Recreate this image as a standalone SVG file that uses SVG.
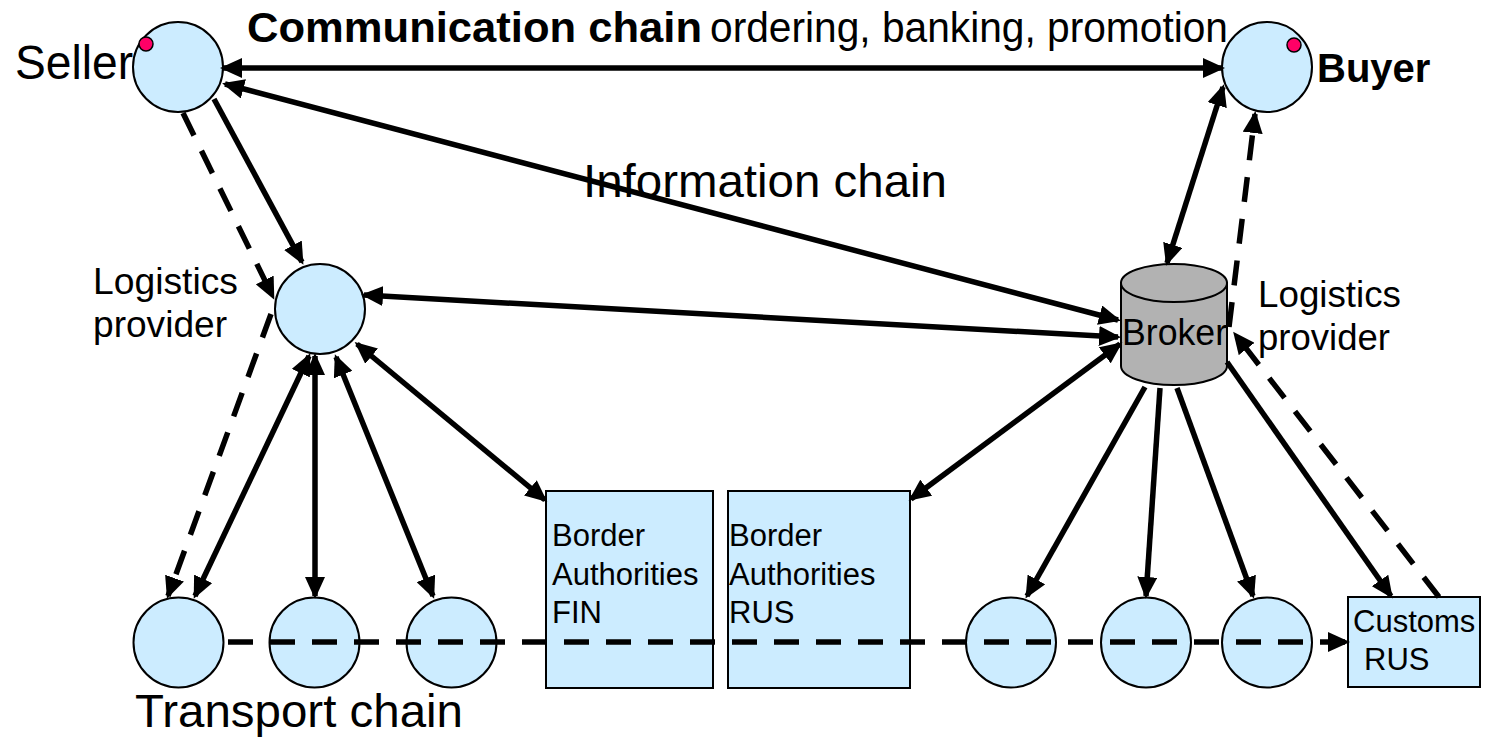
<svg xmlns="http://www.w3.org/2000/svg" width="1485" height="739" viewBox="0 0 1485 739">
<style>
.node{fill:#CCECFF;stroke:#000;stroke-width:2}
.dot{fill:#FF0066;stroke:#000;stroke-width:1.5}
.cyl{fill:#B2B2B2;stroke:#000;stroke-width:2}
.c{stroke:#000;stroke-width:5.5;fill:none}
.d{stroke-dasharray:25 17}
.both{marker-start:url(#ah);marker-end:url(#ah)}
.end{marker-end:url(#ah)}
text{font-family:"Liberation Sans",Arial,sans-serif;fill:#000}
.b{font-weight:bold}
</style>
<defs>
<marker id="ah" viewBox="0 0 22 20" refX="19" refY="10" markerWidth="22" markerHeight="20" markerUnits="userSpaceOnUse" orient="auto-start-reverse">
<path d="M0,0 L22,10 L0,20 Z" fill="#000"/>
</marker>
</defs>
<rect width="1485" height="739" fill="#fff"/>
<text x="15" y="79" font-size="48" textLength="118" lengthAdjust="spacingAndGlyphs">Seller</text>
<g id="seller">
<circle class="node" cx="178" cy="67" r="45"/>
<circle class="dot" cx="146" cy="44" r="7"/>
</g>
<g id="buyer">
<circle class="node" cx="1267" cy="67" r="45"/>
<circle class="dot" cx="1294" cy="45" r="7"/>
<text class="b" x="1317" y="82" font-size="40">Buyer</text>
</g>
<g id="logistics-left">
<circle class="node" cx="320" cy="309" r="45"/>
<text x="93" y="294" font-size="36" textLength="145" lengthAdjust="spacingAndGlyphs">Logistics</text>
<text x="93" y="337" font-size="36" textLength="134" lengthAdjust="spacingAndGlyphs">provider</text>
</g>
<g id="broker">
<path class="cyl" d="M1121,283 L1121,366 A53,19 0 0 0 1227,366 L1227,283 Z"/>
<ellipse class="cyl" cx="1174" cy="283" rx="53" ry="19"/>
<text x="1258" y="307" font-size="36" textLength="143" lengthAdjust="spacingAndGlyphs">Logistics</text>
<text x="1258" y="350" font-size="36" textLength="132" lengthAdjust="spacingAndGlyphs">provider</text>
</g>
<g id="t1"><circle class="node" cx="178.5" cy="642.5" r="45"/></g>
<g id="t2"><circle class="node" cx="314.5" cy="642.5" r="45"/></g>
<g id="t3"><circle class="node" cx="451.5" cy="642.5" r="45"/></g>
<g id="t4"><circle class="node" cx="1011" cy="642.5" r="45"/></g>
<g id="t5"><circle class="node" cx="1146" cy="642.5" r="45"/></g>
<g id="t6"><circle class="node" cx="1267" cy="642.5" r="45"/></g>
<g id="border-fin">
<rect class="node" x="546" y="491" width="167" height="197"/>
<text x="552" y="546" font-size="31">Border</text>
<text x="552" y="585" font-size="31">Authorities</text>
<text x="552" y="623" font-size="31">FIN</text>
</g>
<g id="border-rus">
<rect class="node" x="728" y="491" width="182" height="197"/>
<text x="729" y="546" font-size="31">Border</text>
<text x="729" y="585" font-size="31">Authorities</text>
<text x="729" y="623" font-size="31">RUS</text>
</g>
<g id="customs-rus">
<rect class="node" x="1348" y="597" width="132" height="90"/>
<text x="1353" y="632" font-size="31">Customs</text>
<text x="1364" y="670" font-size="31">RUS</text>
</g>
<g id="connectors">
<line class="c both" x1="223" y1="68" x2="1222" y2="68"/>
<line class="c both" x1="225" y1="84" x2="1118" y2="320"/>
<line class="c both" x1="364" y1="295" x2="1118" y2="337"/>
<line class="c both" x1="911" y1="499" x2="1120" y2="344"/>
<line class="c end" x1="214" y1="99" x2="302" y2="262"/>
<line class="c d end" x1="183" y1="113" x2="273" y2="297"/>
<line class="c d end" x1="271" y1="314" x2="168" y2="596"/>
<line class="c both" x1="309" y1="356" x2="195" y2="596"/>
<line class="c both" x1="315" y1="356" x2="315" y2="596"/>
<line class="c both" x1="336" y1="357" x2="433" y2="596"/>
<line class="c both" x1="357" y1="344" x2="545" y2="500"/>
<line class="c both" x1="1223" y1="87" x2="1167" y2="263"/>
<line class="c d end" x1="1439" y1="597" x2="1235" y2="334"/>
<line class="c d end" x1="1229" y1="327" x2="1255" y2="114"/>
<line class="c end" x1="1145" y1="387" x2="1027" y2="596"/>
<line class="c end" x1="1160" y1="388" x2="1146" y2="596"/>
<line class="c end" x1="1177" y1="388" x2="1253" y2="596"/>
<line class="c end" x1="1227" y1="362" x2="1391" y2="596"/>
<line class="c d end" x1="228" y1="642" x2="1347" y2="642"/>
</g>
<text x="1122" y="345" font-size="36" textLength="105" lengthAdjust="spacingAndGlyphs">Broker</text>
<text class="b" x="247" y="42" font-size="42" textLength="455" lengthAdjust="spacingAndGlyphs">Communication chain</text>
<text x="710" y="42" font-size="42" textLength="518" lengthAdjust="spacingAndGlyphs">ordering, banking, promotion</text>
<text x="583" y="197" font-size="47" textLength="364" lengthAdjust="spacingAndGlyphs">Information chain</text>
<text x="135" y="727" font-size="47" textLength="328" lengthAdjust="spacingAndGlyphs">Transport chain</text>
</svg>
